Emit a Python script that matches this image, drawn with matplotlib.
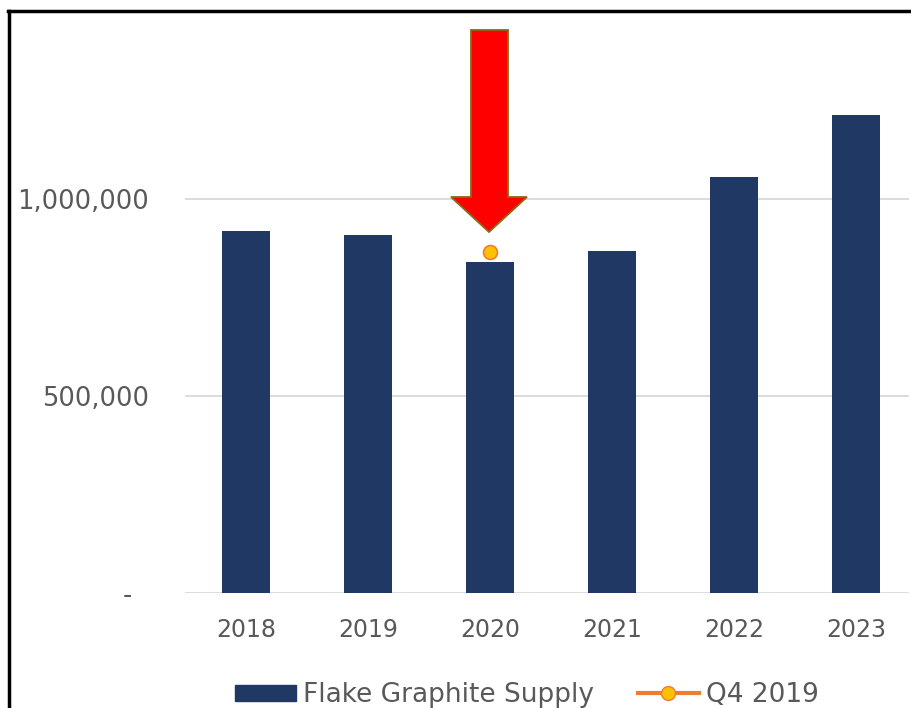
import matplotlib
matplotlib.use("Agg")
import matplotlib.pyplot as plt
from matplotlib.patches import Patch, Polygon
from matplotlib.lines import Line2D

years = ["2018", "2019", "2020", "2021", "2022", "2023"]
supply = [918000, 909000, 840000, 868000, 1056000, 1213000]
q4_2019_year = "2020"
q4_2019_value = 865000
ytick_values = [0, 500000, 1000000]
ytick_labels = ["-  ", "500,000", "1,000,000"]

W, H = 912, 708
plt.rcParams['font.family'] = ['DejaVu Sans']
fig = plt.figure(figsize=(W / 100, H / 100), dpi=100)

text_color = "#595959"
navy = "#203864"
orange = "#ED7D31"
gold = "#FFC000"

# axes geometry in pixels
ax_left, ax_right = 185, 909
ax_bottom, ax_top = 593, 61
ax = fig.add_axes([ax_left / W, 1 - ax_bottom / H, (ax_right - ax_left) / W, (ax_bottom - ax_top) / H])

x = list(range(len(years)))
ax.bar(x, supply, width=0.39, color=navy, zorder=2)
xi = years.index(q4_2019_year)
ax.plot([xi], [q4_2019_value], marker="o", markersize=10, markerfacecolor=gold,
        markeredgecolor=orange, markeredgewidth=1.2, linestyle="none", zorder=4)

ax.set_xlim(-0.5, (ax_right - ax_left) / 122 - 0.5)
ax.set_ylim(0, 1350000)
ax.set_yticks(ytick_values)
ax.set_yticklabels(ytick_labels)
ax.set_xticks(x)
ax.set_xticklabels(years)
ax.tick_params(axis="both", length=0, colors=text_color)
ax.tick_params(axis="y", pad=26, labelsize=18.5)
ax.tick_params(axis="x", pad=18, labelsize=17)
ax.grid(axis="y", color="#D9D9D9", linewidth=1.3, zorder=0)
for s in ax.spines.values():
    s.set_visible(False)
ax.set_facecolor("none")

# red arrow annotation (figure pixel coords)
def fp(px, py):
    return (px / W, 1 - py / H)

arrow_pts = [fp(471, 30), fp(508, 30), fp(508, 197), fp(527, 197), fp(489, 232),
             fp(451, 197), fp(471, 197)]
fig.patches.append(Polygon(arrow_pts, closed=True, facecolor="#FF0000",
                           edgecolor="#8B6914", linewidth=1.3,
                           transform=fig.transFigure, zorder=5))

# border lines
fig.add_artist(Line2D([9 / W, 9 / W], [0, 1 - 11 / H], color="black", linewidth=2.5,
                      transform=fig.transFigure))
fig.add_artist(Line2D([8 / W, 1], [1 - 11 / H, 1 - 11 / H], color="black", linewidth=2.5,
                      transform=fig.transFigure))

handles = [
    Patch(facecolor=navy, edgecolor=navy),
    Line2D([0], [0], color=orange, linewidth=3, marker="o", markersize=10,
           markerfacecolor=gold, markeredgecolor=orange),
]
leg = fig.legend(handles, ["Flake Graphite Supply", "Q4 2019"], loc="center",
                 bbox_to_anchor=(527 / W, 1 - 695 / H), ncol=2, frameon=False,
                 fontsize=19, handlelength=2.3, handleheight=0.55, handletextpad=0.28,
                 columnspacing=1.65, labelcolor=text_color)

fig.savefig("out.png", dpi=100)
